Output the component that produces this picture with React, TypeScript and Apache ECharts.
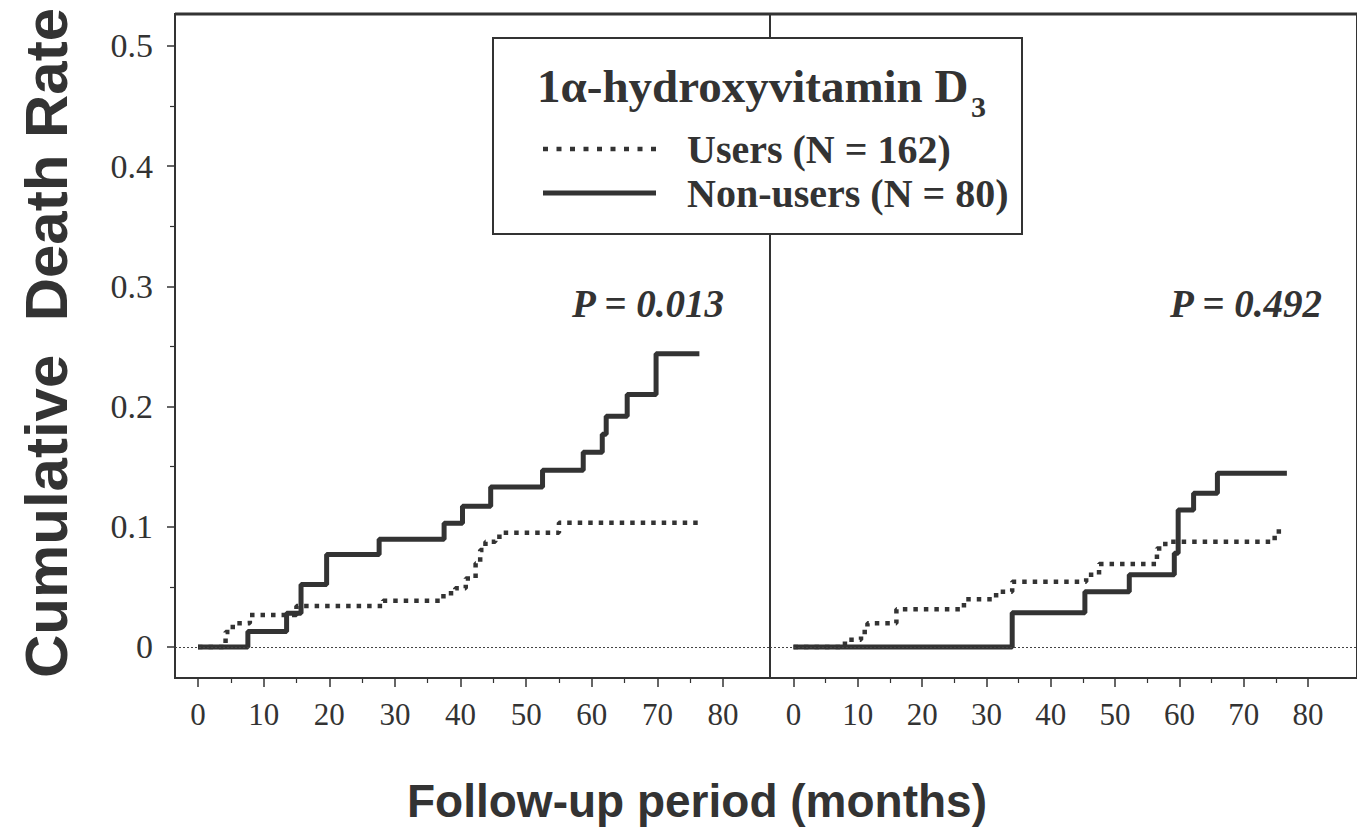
import React, { useEffect, useRef } from "react";
import * as echarts from "echarts";

// ---- data ----
const xTicks = [0, 10, 20, 30, 40, 50, 60, 70, 80];
const xMinorTicks = [5, 15, 25, 35, 45, 55, 65, 75];
const yTicks = [0, 0.1, 0.2, 0.3, 0.4, 0.5];
const yMinorTicks = [0.05, 0.15, 0.25, 0.35, 0.45];

// [month, cumulative death rate]
const leftNonUsers: [number, number][] = [
  [0, 0], [7.6, 0.0128], [13.5, 0.028], [15.7, 0.052], [19.6, 0.077],
  [27.6, 0.0896], [37.5, 0.103], [40.3, 0.117], [44.6, 0.133], [52.5, 0.147],
  [58.7, 0.162], [61.6, 0.177], [62.2, 0.192], [65.4, 0.21], [69.8, 0.244],
  [76.4, 0.244],
];
const leftUsers: [number, number][] = [
  [0, 0], [4.2, 0.0125], [5.3, 0.0197], [7.9, 0.0266], [15.0, 0.034],
  [28.2, 0.0385], [37.4, 0.0447], [39.2, 0.0488], [40.8, 0.057], [42.3, 0.0696],
  [43.0, 0.0807], [43.8, 0.0876], [45.3, 0.0918], [46.3, 0.0951], [55.0, 0.1034],
  [76.5, 0.1034],
];
const rightNonUsers: [number, number][] = [
  [0, 0], [34.0, 0.0285], [45.3, 0.046], [52.2, 0.06], [59.2, 0.078],
  [59.8, 0.114], [62.2, 0.128], [65.9, 0.1445], [76.7, 0.1445],
];
const rightUsers: [number, number][] = [
  [0, 0], [8.0, 0.006], [10.5, 0.0125], [11.5, 0.0197], [16.0, 0.0313],
  [26.5, 0.0397], [31.5, 0.046], [34.0, 0.0543], [45.5, 0.06], [47.5, 0.069],
  [56.5, 0.082], [57.8, 0.0876], [74.8, 0.096], [76.7, 0.096],
];

const pValues = ["P = 0.013", "P = 0.492"];
const legendTitle = "1α-hydroxyvitamin D";
const legendSub = "3";
const seriesNames = ["Users (N = 162)", "Non-users (N = 80)"];
const yTitle = "Cumulative  Death Rate";
const xTitle = "Follow-up period (months)";

const INK = "#333";
const SERIF = "'Liberation Serif', 'Times New Roman', serif";
const SANS = "'Liberation Sans', Arial, sans-serif";

export default function App() {
  const ref = useRef<HTMLDivElement>(null);

  useEffect(() => {
    document.body.style.margin = "0";
    const chart = echarts.init(ref.current!, undefined, { renderer: "svg" });

    const mainX = (gridIndex: number, min: number, max: number) => ({
      type: "value", gridIndex, min, max, position: "bottom",
      axisLine: { show: false, onZero: false },
      splitLine: { show: false },
      axisTick: { show: true, customValues: xTicks, length: 9, lineStyle: { color: INK, width: 1.5 } },
      axisLabel: { customValues: xTicks, margin: 21, fontFamily: SERIF, fontSize: 31, color: INK },
    });
    const minorX = (gridIndex: number, min: number, max: number) => ({
      type: "value", gridIndex, min, max, position: "bottom",
      axisLine: { show: false, onZero: false },
      splitLine: { show: false },
      axisTick: { show: true, customValues: xMinorTicks, length: 5, lineStyle: { color: INK, width: 1.2 } },
      axisLabel: { show: false },
    });

    const yMin = -0.0258, yMax = 0.5266;

    const solid = { color: INK, width: 5, type: "solid", cap: "butt" };
    const dotted = { color: INK, width: 4.5, type: [4.5, 6], cap: "butt" };
    const zeroLine = {
      silent: true, symbol: ["none", "none"], label: { show: false },
      lineStyle: { type: [2, 2], color: "#444", width: 1.2 },
      data: [{ yAxis: 0 }],
    };

    chart.setOption({
      animation: false,
      backgroundColor: "#fff",
      grid: [
        { left: 175, top: 14, width: 595, height: 664, show: true, borderColor: INK, borderWidth: 2, backgroundColor: "transparent" },
        { left: 770, top: 14, width: 600, height: 664, show: true, borderColor: INK, borderWidth: 2, backgroundColor: "transparent" },
      ],
      xAxis: [
        mainX(0, -3.505, 87.16),
        minorX(0, -3.505, 87.16),
        mainX(1, -3.65, 87.6),
        minorX(1, -3.65, 87.6),
      ],
      yAxis: [
        {
          type: "value", gridIndex: 0, min: yMin, max: yMax, position: "left",
          axisLine: { show: false, onZero: false },
          splitLine: { show: false },
          axisTick: { show: true, customValues: yTicks, length: 8, lineStyle: { color: INK, width: 1.5 } },
          axisLabel: { customValues: yTicks, margin: 22, fontFamily: SERIF, fontSize: 34, color: INK, formatter: (v: number) => String(v) },
        },
        {
          type: "value", gridIndex: 0, min: yMin, max: yMax, position: "left",
          axisLine: { show: false, onZero: false },
          splitLine: { show: false },
          axisTick: { show: true, customValues: yMinorTicks, length: 5, lineStyle: { color: INK, width: 1.2 } },
          axisLabel: { show: false },
        },
        { type: "value", gridIndex: 1, min: yMin, max: yMax, show: false },
      ],
      series: [
        { name: seriesNames[0], type: "line", xAxisIndex: 0, yAxisIndex: 0, data: leftUsers, step: "end", showSymbol: false, lineStyle: dotted, markLine: zeroLine, z: 3 },
        { name: seriesNames[1], type: "line", xAxisIndex: 0, yAxisIndex: 0, data: leftNonUsers, step: "end", showSymbol: false, lineStyle: solid, z: 4 },
        { name: seriesNames[0], type: "line", xAxisIndex: 2, yAxisIndex: 2, data: rightUsers, step: "end", showSymbol: false, lineStyle: dotted, markLine: zeroLine, z: 3 },
        { name: seriesNames[1], type: "line", xAxisIndex: 2, yAxisIndex: 2, data: rightNonUsers, step: "end", showSymbol: false, lineStyle: solid, z: 4 },
      ],
      graphic: [
        {
          type: "line", z: 5, shape: { x1: 175, y1: 14, x2: 1357, y2: 14 }, style: { stroke: INK, lineWidth: 3 },
        },
        {
          type: "text", x: 46, y: 343, rotation: Math.PI / 2, z: 10,
          style: { text: yTitle, fontSize: 60, fontWeight: "bold", fontFamily: SANS, fill: INK, align: "center", verticalAlign: "middle" },
        },
        {
          type: "text", x: 697, y: 801, z: 10,
          style: { text: xTitle, fontSize: 46, fontWeight: "bold", fontFamily: SANS, fill: INK, align: "center", verticalAlign: "middle" },
        },
        {
          type: "text", x: 648, y: 303, z: 10,
          style: { text: pValues[0], fontSize: 39, fontWeight: "bold", fontStyle: "italic", fontFamily: SERIF, fill: INK, align: "center", verticalAlign: "middle" },
        },
        {
          type: "text", x: 1246, y: 303, z: 10,
          style: { text: pValues[1], fontSize: 39, fontWeight: "bold", fontStyle: "italic", fontFamily: SERIF, fill: INK, align: "center", verticalAlign: "middle" },
        },
        {
          type: "group", z: 20,
          children: [
            { type: "rect", shape: { x: 493, y: 38, width: 529, height: 196 }, style: { fill: "#fff", stroke: INK, lineWidth: 2 }, z: 20 },
            { type: "text", x: 537, y: 86, z: 21, style: { text: legendTitle, fontSize: 47, fontWeight: "bold", fontFamily: SERIF, fill: INK, align: "left", verticalAlign: "middle" } },
            { type: "text", x: 971, y: 106, z: 21, style: { text: legendSub, fontSize: 30, fontWeight: "bold", fontFamily: SERIF, fill: INK, align: "left", verticalAlign: "middle" } },
            { type: "line", shape: { x1: 543, y1: 149, x2: 656, y2: 149 }, style: { stroke: INK, lineWidth: 4.5, lineDash: [5, 8.5] }, z: 21 },
            { type: "text", x: 687, y: 149, z: 21, style: { text: seriesNames[0], fontSize: 40, fontWeight: "bold", fontFamily: SERIF, fill: INK, align: "left", verticalAlign: "middle" } },
            { type: "line", shape: { x1: 543, y1: 193, x2: 656, y2: 193 }, style: { stroke: INK, lineWidth: 5 }, z: 21 },
            { type: "text", x: 687, y: 193, z: 21, style: { text: seriesNames[1], fontSize: 40, fontWeight: "bold", fontFamily: SERIF, fill: INK, align: "left", verticalAlign: "middle" } },
          ],
        },
      ],
    });

    return () => chart.dispose();
  }, []);

  return <div ref={ref} style={{ width: 1357, height: 837 }} />;
}
